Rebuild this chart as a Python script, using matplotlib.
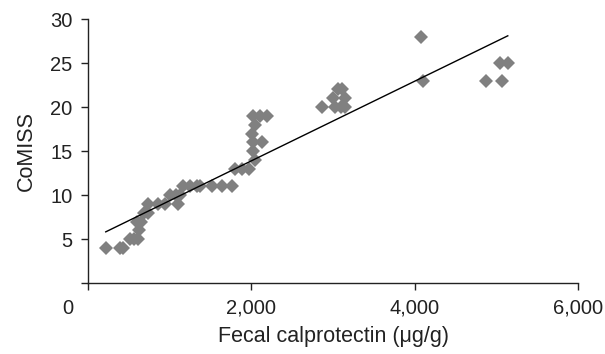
import matplotlib
matplotlib.use("Agg")
import matplotlib.pyplot as plt
import matplotlib.transforms as mtransforms
import numpy as np

plt.rcParams['font.family'] = ['Liberation Sans', 'DejaVu Sans']

# fecal calprotectin (ug/g) vs CoMISS
calpro = [217, 392, 425,
          514, 563, 616,
          628,
          604, 645,
          689, 738,
          731, 861, 943, 1106,
          1004, 1074, 1127,
          1167, 1249, 1331, 1371, 1515, 1637, 1760,
          1800, 1890, 1970,
          2045, 2024, 2024, 2127, 2004, 2045, 2024, 2106, 2188,
          2862, 3030, 3100, 3150, 3000, 3150, 3060, 3110,
          4074, 4098, 4873, 5066, 5050, 5140]
comiss = [4, 4, 4,
          5, 5, 5,
          6,
          7, 7,
          8, 8,
          9, 9, 9, 9,
          10, 10, 10,
          11, 11, 11, 11, 11, 11, 11,
          13, 13, 13,
          14, 15, 16, 16, 17, 18, 19, 19, 19,
          20, 20, 20, 20, 21, 21, 22, 22,
          28, 23, 23, 23, 25, 25]

# trend line
slope = 0.00452
intercept = 4.86

xticks = [0, 2000, 4000, 6000]
xticklabels = ['0', '2,000', '4,000', '6,000']
yticks = [0, 5, 10, 15, 20, 25, 30]
yticklabels = ['', '5', '10', '15', '20', '25', '30']

fig = plt.figure(figsize=(6.05, 3.54), dpi=100)
ax = fig.add_axes([0.1455, 0.1997, 0.8099, 0.7466])

ax.plot(calpro, comiss, linestyle='none', marker='D', markersize=7.5,
        color='#808080', markeredgewidth=0, clip_on=False)

xl = np.array([min(calpro), max(calpro)])
ax.plot(xl, slope * xl + intercept, color='black', linewidth=1.0)

ax.set_xlim(0, 6000)
ax.set_ylim(0, 30)
ax.set_xticks(xticks)
ax.set_xticklabels(xticklabels)
ax.set_yticks(yticks)
ax.set_yticklabels(yticklabels)

for s in ['top', 'right']:
    ax.spines[s].set_visible(False)
for s in ['left', 'bottom']:
    ax.spines[s].set_linewidth(1.0)
    ax.spines[s].set_color('#222222')

ax.tick_params(direction='out', length=5, width=1.0, color='#222222',
               labelsize=14.5, labelcolor='#222222', pad=6)

# the "0" sits left of the corner in the original
lab0 = ax.get_xticklabels()[0]
lab0.set_transform(lab0.get_transform() +
                   mtransforms.ScaledTranslation(-0.20, 0, fig.dpi_scale_trans))

ax.set_xlabel('Fecal calprotectin (\u03bcg/g)', fontsize=15.5, color='#222222', labelpad=6)
ax.set_ylabel('CoMISS', fontsize=15.5, color='#222222', labelpad=10)

fig.savefig('out.png', dpi=100)
